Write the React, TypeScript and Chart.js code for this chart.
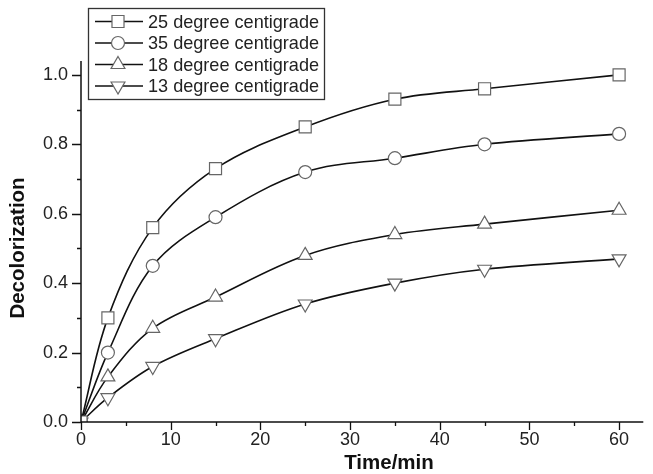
import React, { useEffect, useRef } from 'react';
import { Chart, registerables } from 'chart.js';
import { drawPoint } from 'chart.js/helpers';

Chart.register(...registerables);

const timeMin = [0, 3, 8, 15, 25, 35, 45, 60];
const seriesNames = ['25 degree centigrade', '35 degree centigrade', '18 degree centigrade', '13 degree centigrade'];
const deg25 = [0, 0.30, 0.56, 0.73, 0.85, 0.93, 0.96, 1.00];
const deg35 = [0, 0.20, 0.45, 0.59, 0.72, 0.76, 0.80, 0.83];
const deg18 = [0, 0.13, 0.27, 0.36, 0.48, 0.54, 0.57, 0.61];
const deg13 = [0, 0.07, 0.16, 0.24, 0.34, 0.40, 0.44, 0.47];
const xMajorTicks = [0, 10, 20, 30, 40, 50, 60];
const xMinorTicks = [5, 15, 25, 35, 45, 55];
const yMajorTicks = [0, 0.2, 0.4, 0.6, 0.8, 1.0];
const yMinorTicks = [0.1, 0.3, 0.5, 0.7, 0.9];
const xTitle = 'Time/min';
const yTitle = 'Decolorization';

const FONT = '"Liberation Sans", Arial, sans-serif';

const markerStyles = [
  { pointStyle: 'rect', radius: 8.5, rotation: 0 },
  { pointStyle: 'circle', radius: 6.5, rotation: 0 },
  { pointStyle: 'triangle', radius: 8, rotation: 0 },
  { pointStyle: 'triangle', radius: 8, rotation: 180 },
];

const customPlugin = {
  id: 'customAxesLegend',
  afterDraw(chart: any) {
    const ctx = chart.ctx as CanvasRenderingContext2D;
    const xs = chart.scales.x;
    const ys = chart.scales.y;
    const { left, right, top, bottom } = chart.chartArea;
    ctx.save();
    ctx.strokeStyle = '#111';
    ctx.lineWidth = 1.5;
    ctx.beginPath();
    ctx.moveTo(left, top);
    ctx.lineTo(left, bottom);
    ctx.lineTo(right, bottom);
    ctx.stroke();
    ctx.lineWidth = 1.3;
    ctx.beginPath();
    xMajorTicks.forEach((v) => {
      const px = Math.round(xs.getPixelForValue(v)) + 0.5;
      ctx.moveTo(px, bottom);
      ctx.lineTo(px, bottom + 8);
    });
    xMinorTicks.forEach((v) => {
      const px = Math.round(xs.getPixelForValue(v)) + 0.5;
      ctx.moveTo(px, bottom);
      ctx.lineTo(px, bottom + 4);
    });
    yMajorTicks.forEach((v) => {
      const py = Math.round(ys.getPixelForValue(v)) + 0.5;
      ctx.moveTo(left, py);
      ctx.lineTo(left - 9, py);
    });
    yMinorTicks.forEach((v) => {
      const py = Math.round(ys.getPixelForValue(v)) + 0.5;
      ctx.moveTo(left, py);
      ctx.lineTo(left - 4, py);
    });
    ctx.stroke();

    ctx.fillStyle = '#111';
    ctx.font = `bold 20.5px ${FONT}`;
    ctx.textAlign = 'center';
    ctx.textBaseline = 'middle';
    ctx.fillText(xTitle, 389, 463);
    ctx.save();
    ctx.translate(18, 248);
    ctx.rotate(-Math.PI / 2);
    ctx.fillText(yTitle, 0, 0);
    ctx.restore();

    const bx = 88.5, by = 8.5, bw = 236, bh = 91;
    ctx.fillStyle = '#fff';
    ctx.fillRect(bx, by, bw, bh);
    ctx.strokeStyle = '#333';
    ctx.lineWidth = 1.3;
    ctx.strokeRect(bx, by, bw, bh);
    const rowY = [21.5, 43, 64.5, 86];
    ctx.font = `18.1px ${FONT}`;
    ctx.textAlign = 'left';
    ctx.textBaseline = 'middle';
    seriesNames.forEach((name, i) => {
      const y = rowY[i];
      ctx.strokeStyle = '#111';
      ctx.lineWidth = 1.5;
      ctx.beginPath();
      ctx.moveTo(95, y);
      ctx.lineTo(143, y);
      ctx.stroke();
      const m = markerStyles[i];
      ctx.fillStyle = '#fff';
      ctx.strokeStyle = '#666';
      ctx.lineWidth = 1.2;
      drawPoint(ctx, { pointStyle: m.pointStyle as any, rotation: m.rotation, radius: m.radius, borderWidth: 1.2 }, 118, y);
      ctx.fillStyle = '#222';
      ctx.fillText(name, 148, y + 1);
    });
    ctx.restore();
  },
};

export default function App() {
  const ref = useRef<HTMLCanvasElement | null>(null);
  useEffect(() => {
    if (!ref.current) return;
    const seriesValues = [deg25, deg35, deg18, deg13];
    const datasets = seriesValues.map((vals, i) => ({
      label: seriesNames[i],
      data: vals.map((v, j) => ({ x: timeMin[j], y: v })),
      borderColor: '#111',
      borderWidth: 1.6,
      tension: 0.35,
      pointStyle: markerStyles[i].pointStyle as any,
      pointRotation: markerStyles[i].rotation,
      pointRadius: markerStyles[i].radius,
      pointBorderColor: '#666',
      pointBackgroundColor: '#fff',
      pointBorderWidth: 1.2,
      fill: false,
    }));
    const chart = new Chart(ref.current, {
      type: 'line',
      data: { datasets },
      options: {
        animation: false,
        responsive: false,
        maintainAspectRatio: false,
        layout: { padding: { top: 61, left: 0, right: 0, bottom: 0 } },
        plugins: { legend: { display: false }, tooltip: { enabled: false } },
        scales: {
          x: {
            type: 'linear',
            min: 0,
            max: 62.7,
            grid: { display: false, drawTicks: false },
            border: { display: false },
            ticks: {
              stepSize: 10,
              includeBounds: false,
              padding: 7,
              color: '#222',
              font: { family: FONT, size: 18 },
              maxRotation: 0,
              callback: (v: any) => String(v),
            },
            afterFit: (s: any) => { s.height = 52; },
          },
          y: {
            type: 'linear',
            min: 0,
            max: 1.04,
            grid: { display: false, drawTicks: false },
            border: { display: false },
            ticks: {
              stepSize: 0.2,
              includeBounds: false,
              padding: 13,
              color: '#222',
              font: { family: FONT, size: 18 },
              callback: (v: any) => Number(v).toFixed(1),
            },
            afterFit: (s: any) => { s.width = 81; },
          },
        },
      },
      plugins: [customPlugin],
    });
    return () => chart.destroy();
  }, []);
  return (
    <div style={{ position: 'absolute', left: 0, top: 0, width: 653, height: 474, background: '#fff' }}>
      <canvas ref={ref} width={653} height={474} style={{ width: 653, height: 474 }} />
    </div>
  );
}
